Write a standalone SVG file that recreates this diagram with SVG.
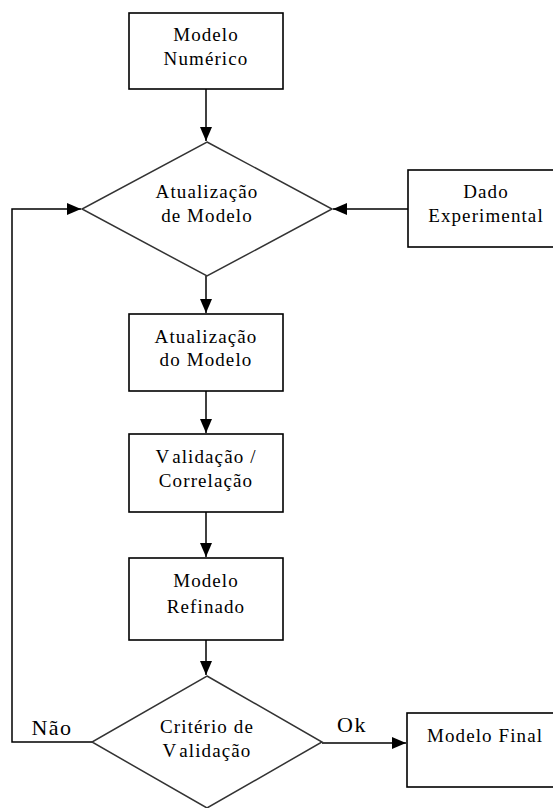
<svg xmlns="http://www.w3.org/2000/svg" width="553" height="808" viewBox="0 0 553 808" font-family="'Liberation Serif', 'DejaVu Serif', serif">
<style>
.box{fill:#fff;stroke:#000;stroke-width:1.6}
.dia{fill:#fff;stroke:#333;stroke-width:1.5}
.ln{fill:none;stroke:#000;stroke-width:1.5}
.t{font-family:'Liberation Serif','DejaVu Serif',serif;font-size:19px;letter-spacing:1.1px;fill:#000;text-anchor:middle}
.lb{font-size:22px;letter-spacing:1.5px}
</style>
<defs>
<marker id="ah" markerUnits="userSpaceOnUse" markerWidth="14" markerHeight="12" viewBox="0 0 14 12" refX="14" refY="6" orient="auto">
<path d="M0,0 L14,6 L0,12 Z" fill="#000"/>
</marker>
</defs>
<rect width="553" height="808" fill="#fff"/>
<g id="connectors">
<line class="ln" x1="206" y1="89" x2="206" y2="141" marker-end="url(#ah)"/>
<line class="ln" x1="408" y1="209" x2="333" y2="209" marker-end="url(#ah)"/>
<line class="ln" x1="206" y1="276" x2="206" y2="313" marker-end="url(#ah)"/>
<line class="ln" x1="206" y1="391" x2="206" y2="433" marker-end="url(#ah)"/>
<line class="ln" x1="206" y1="512" x2="206" y2="557" marker-end="url(#ah)"/>
<line class="ln" x1="206" y1="640" x2="206" y2="675" marker-end="url(#ah)"/>
<polyline class="ln" points="92,742 12,742 12,209 81,209" marker-end="url(#ah)"/>
<line class="ln" x1="322" y1="743" x2="406" y2="743" marker-end="url(#ah)"/>
<text class="t lb" x="52" y="735">Não</text>
<text class="t lb" x="352" y="732">Ok</text>
</g>
<g id="modelo-numerico">
<rect class="box" x="129" y="13" width="154" height="76"/>
<text class="t" x="206" y="41">Modelo</text>
<text class="t" x="206" y="65">Numérico</text>
</g>
<g id="atualizacao-de-modelo">
<polygon class="dia" points="207,142 332,209 207,276 82,209"/>
<text class="t" x="207" y="198">Atualização</text>
<text class="t" x="207" y="222">de Modelo</text>
</g>
<g id="dado-experimental">
<rect class="box" x="408" y="170" width="156" height="77"/>
<text class="t" x="486" y="198">Dado</text>
<text class="t" x="486" y="222">Experimental</text>
</g>
<g id="atualizacao-do-modelo">
<rect class="box" x="129" y="314" width="154" height="77"/>
<text class="t" x="206" y="343">Atualização</text>
<text class="t" x="206" y="366">do Modelo</text>
</g>
<g id="validacao-correlacao">
<rect class="box" x="129" y="434" width="154" height="78"/>
<text class="t" x="206" y="463">V<tspan dx="4">alidação /</tspan></text>
<text class="t" x="206" y="487">Correlação</text>
</g>
<g id="modelo-refinado">
<rect class="box" x="129" y="558" width="154" height="82"/>
<text class="t" x="206" y="587">Modelo</text>
<text class="t" x="206" y="613">Refinado</text>
</g>
<g id="criterio-de-validacao">
<polygon class="dia" points="207,676 322,742 207,808 92,742"/>
<text class="t" x="207" y="733">Critério de</text>
<text class="t" x="207" y="757">V<tspan dx="4">alidação</tspan></text>
</g>
<g id="modelo-final">
<rect class="box" x="407" y="713" width="156" height="74"/>
<text class="t" x="485" y="742">Modelo Final</text>
</g>
</svg>
